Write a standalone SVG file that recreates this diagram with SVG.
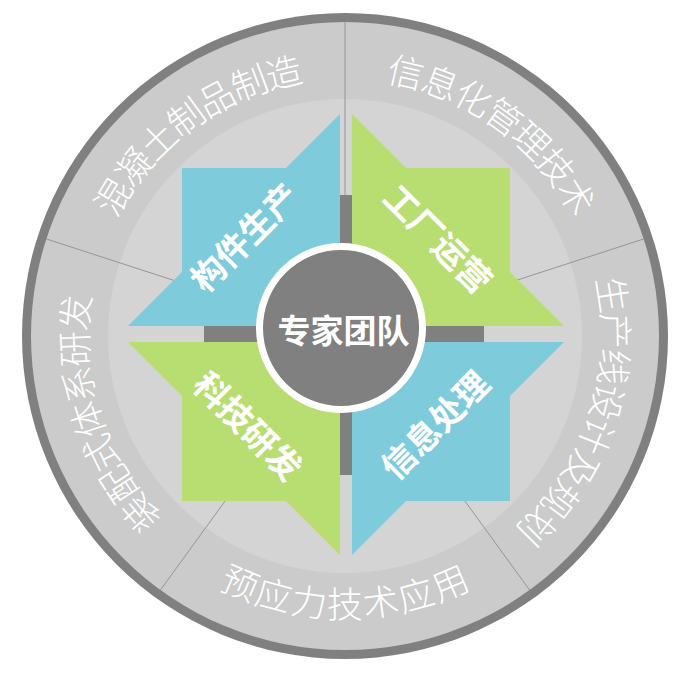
<svg xmlns="http://www.w3.org/2000/svg" width="696" height="678" viewBox="0 0 696 678">
<defs>
<style>
.band{font-family:"Liberation Sans","Noto Sans CJK SC",sans-serif;font-size:36px;font-weight:300;fill:#ffffff;text-anchor:middle}
.lbl{font-family:"Liberation Sans","Noto Sans CJK SC",sans-serif;font-size:34px;font-weight:bold;fill:#ffffff;text-anchor:middle}
.blue{fill:#7ecbdb}
.green{fill:#b8de72}
.div{stroke:#8e8e8e;stroke-width:0.9}
.bar{fill:#808080}
</style>
<path id="arc1" d="M102.33,454.36 A270,270 0 0 1 532.56,141.78" fill="none"/>
<path id="arc2" d="M157.44,141.78 A270,270 0 0 1 587.67,454.36" fill="none"/>
<path id="arc3" d="M471.76,97.60 A270,270 0 0 1 307.42,603.37" fill="none"/>
<path id="arc4" d="M80.09,382.71 A269,269 0 0 0 609.91,382.71" fill="none"/>
<path id="arc5" d="M382.58,603.37 A270,270 0 0 1 218.24,97.60" fill="none"/>
</defs>
<rect width="696" height="678" fill="#ffffff"/>
<g id="ring">
<circle cx="345" cy="336" r="323" fill="#808080"/>
<circle cx="345" cy="336" r="314" fill="#cacbca"/>
<circle cx="345" cy="336" r="237" fill="#d4d4d4"/>
</g>
<g id="dividers">
<line class="div" x1="345" y1="336" x2="345" y2="22"/>
<line class="div" x1="345" y1="336" x2="643.63" y2="238.97"/>
<line class="div" x1="345" y1="336" x2="529.57" y2="590.03"/>
<line class="div" x1="345" y1="336" x2="160.43" y2="590.03"/>
<line class="div" x1="345" y1="336" x2="46.37" y2="238.97"/>
</g>
<g id="node-goujian">
<polygon class="blue" points="340,114 286,168 182,168 182,272 128,326 340,326"/>
<text class="lbl" dominant-baseline="central" transform="translate(245,238) rotate(-45)">构件生产</text>
</g>
<g id="node-gongchang">
<polygon class="green" points="352,114 406,168 510,168 510,272 564,326 352,326"/>
<text class="lbl" dominant-baseline="central" transform="translate(437.5,239.5) rotate(45)">工厂运营</text>
</g>
<g id="node-keji">
<polygon class="green" points="128,342 182,396 182,501 286,501 340,555 340,342"/>
<text class="lbl" dominant-baseline="central" transform="translate(247.5,426.5) rotate(45)">科技研发</text>
</g>
<g id="node-xinxi">
<polygon class="blue" points="564,342 510,396 510,501 406,501 352,555 352,342"/>
<text class="lbl" dominant-baseline="central" transform="translate(435.5,425.5) rotate(-45)">信息处理</text>
</g>
<g id="connectors">
<rect class="bar" x="340" y="195" width="12" height="280"/>
<rect class="bar" x="204" y="326" width="280" height="16"/>
</g>
<g id="node-center">
<circle cx="341" cy="328" r="81.5" fill="#808080" stroke="#ffffff" stroke-width="7"/>
<text class="lbl" dominant-baseline="central" x="343.5" y="331" style="font-size:33px">专家团队</text>
</g>
<g id="node-label1"><text class="band" dominant-baseline="central"><textPath href="#arc1" startOffset="50%">混凝土制品制造</textPath></text></g>
<g id="node-label2"><text class="band" dominant-baseline="central"><textPath href="#arc2" startOffset="50%">信息化管理技术</textPath></text></g>
<g id="node-label3"><text class="band" dominant-baseline="central"><textPath href="#arc3" startOffset="50%">生产线设计及规划</textPath></text></g>
<g id="node-label4"><text class="band" dominant-baseline="central"><textPath href="#arc4" startOffset="50%">预应力技术应用</textPath></text></g>
<g id="node-label5"><text class="band" dominant-baseline="central"><textPath href="#arc5" startOffset="50%">装配式体系研发</textPath></text></g>
</svg>
